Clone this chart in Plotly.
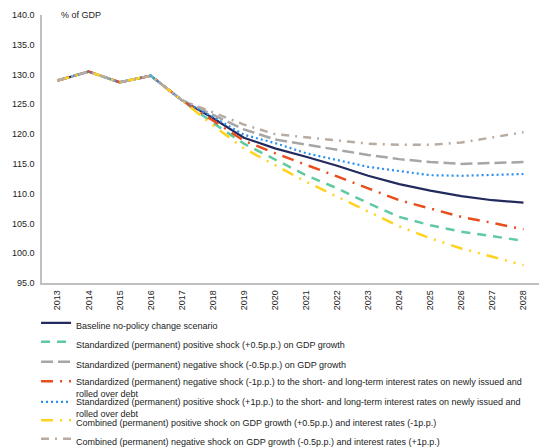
import plotly.graph_objects as go

years = [str(y) for y in range(2013, 2029)]

baseline = [129.0, 130.5, 128.7, 129.8, 125.7, 122.7, 119.4, 117.6, 116.2, 114.7, 113.0, 111.6, 110.5, 109.6, 108.9, 108.5]
pos_gdp = [129.0, 130.5, 128.7, 129.8, 125.7, 121.9, 118.4, 115.7, 113.1, 110.9, 108.4, 106.1, 104.7, 103.6, 102.8, 102.1]
neg_gdp = [129.0, 130.5, 128.7, 129.8, 125.7, 123.2, 120.8, 119.1, 118.2, 117.3, 116.5, 115.8, 115.3, 115.0, 115.1, 115.3]
neg_ir = [129.0, 130.5, 128.7, 129.8, 125.7, 122.3, 118.9, 116.8, 114.9, 112.9, 110.9, 108.9, 107.5, 106.1, 105.1, 104.0]
pos_ir = [129.0, 130.5, 128.7, 129.8, 125.7, 122.9, 119.9, 118.5, 116.8, 115.7, 114.5, 113.8, 113.1, 113.0, 113.1, 113.3]
comb_pos = [129.0, 130.5, 128.7, 129.8, 125.7, 121.5, 117.6, 114.8, 112.0, 109.5, 107.0, 104.5, 102.5, 100.8, 99.4, 98.0]
comb_neg = [129.0, 130.5, 128.7, 129.8, 125.7, 123.6, 121.6, 120.0, 119.5, 118.9, 118.4, 118.2, 118.2, 118.6, 119.4, 120.3]

names = [
    "Baseline no-policy change scenario",
    "Standardized (permanent) positive shock (+0.5p.p.) on GDP growth",
    "Standardized (permanent) negative shock (-0.5p.p.) on GDP growth",
    "Standardized (permanent) negative shock (-1p.p.) to the short- and long-term interest rates on newly issued and<br>rolled over debt",
    "Standardized (permanent) positive shock (+1p.p.) to the short- and long-term interest rates on newly issued and<br>rolled over debt",
    "Combined (permanent) positive shock on GDP growth (+0.5p.p.) and interest rates (-1p.p.)",
    "Combined (permanent) negative shock on GDP growth (-0.5p.p.) and interest rates (+1p.p.)",
]
series = [baseline, pos_gdp, neg_gdp, neg_ir, pos_ir, comb_pos, comb_neg]
colors = ["#222a5e", "#5fc9a0", "#a6a6a6", "#ea4d1c", "#2b8ff0", "#ffd21f", "#b8aca2"]
dashes = ["solid", "9px,7px", "12px,5px", "12px,7px,2px,7px", "2px,3px",
          "12px,7px,2px,7px,2px,7px", "8px,6px,2px,6px"]
widths = [2.2, 2.5, 2.5, 2.5, 2.2, 2.5, 2.5]

# legend row positions (pixels from top of page) and plot-area geometry
plot_top, plot_bottom = 15, 283
legend_rows = [325, 344, 364, 382, 402.5, 422.5, 441]
legend_names = ["legend", "legend2", "legend3", "legend4", "legend5", "legend6", "legend7"]

fig = go.Figure()
for i in range(7):
    fig.add_trace(go.Scatter(
        x=years, y=series[i], name=names[i], mode="lines",
        line=dict(color=colors[i], dash=dashes[i], width=widths[i]),
        legend=legend_names[i],
    ))

layout_legends = {}
for i, ln in enumerate(legend_names):
    py = legend_rows[i]
    two_line = "<br>" in names[i]
    center = py + (5.5 if two_line else 0)
    yp = (plot_bottom - center) / (plot_bottom - plot_top)
    layout_legends[ln] = dict(
        x=-0.012, y=yp, xanchor="left", yanchor="middle",
        orientation="v", valign="top",
        font=dict(size=9, color="#222"), itemwidth=30,
        bgcolor="rgba(0,0,0,0)", borderwidth=0,
    )

fig.update_layout(
    width=539, height=448,
    margin=dict(l=42, r=0, t=15, b=165, autoexpand=False),
    paper_bgcolor="white", plot_bgcolor="white",
    font=dict(family="Liberation Sans, Arial, sans-serif", size=9, color="#222"),
    showlegend=True,
    xaxis=dict(
        type="category", range=[-0.5, 15.5], tickangle=-90, automargin=False,
        showline=True, linecolor="#bfbfbf", linewidth=1.5,
        showgrid=False, ticks="", tickfont=dict(size=9, color="#222"),
        ticklabelstandoff=2,
    ),
    yaxis=dict(
        range=[95, 140], dtick=5, tickformat=".1f", automargin=False,
        showline=True, linecolor="#bfbfbf", linewidth=1.5,
        showgrid=False, ticks="", zeroline=False,
        tickfont=dict(size=9, color="#222"), ticklabelstandoff=4,
    ),
    annotations=[dict(
        text="% of GDP", xref="paper", yref="paper", x=0.035, y=1.0,
        xanchor="left", yanchor="middle", showarrow=False,
        font=dict(size=9, color="#222"),
    )],
    **layout_legends,
)

fig.write_html(
    "out.html",
    config={"displayModeBar": False},
    post_script="document.body.style.margin='0';document.body.style.padding='0';",
)
